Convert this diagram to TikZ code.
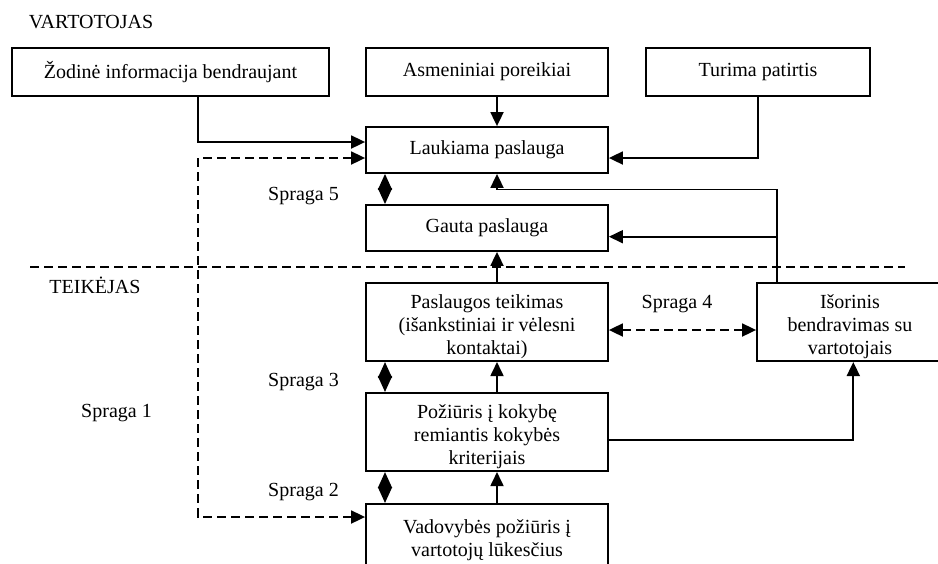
\documentclass[tikz,border=0pt]{standalone}
\usepackage{fontspec}
\setmainfont{Liberation Serif}
\usetikzlibrary{arrows.meta}

\newcommand{\topgap}{\rule{0pt}{12pt}}

\begin{document}
\begin{tikzpicture}[x=0.5pt,y=-0.5pt,
    box/.style={draw, line width=0.9pt, inner sep=1pt, align=center, minimum width=121pt, font=\fontsize{10}{11.5}\selectfont},
    tall/.style={box, minimum height=39pt},
    lbl/.style={inner sep=0pt, anchor=base, font=\fontsize{10}{11.5}\selectfont},
    arr/.style={line width=0.9pt, -{Triangle[length=7pt,width=6.5pt]}},
    gap/.style={line width=0.9pt, {Triangle[length=8pt,width=7pt]}-{Triangle[length=8pt,width=7pt]}},
    dsh/.style={line width=0.9pt, dash pattern=on 4.5pt off 2.5pt}]
      \clip (0,0) rectangle (938,563);
      \node[lbl] (vart) at (91,28.5) {VARTOTOJAS};
      \node[box, minimum width=158.5pt, minimum height=24pt] (zod) at (170.5,72) {Žodinė informacija bendraujant};
      \node[box, minimum height=24pt] (asm) at (487,72) {Asmeniniai poreikiai};
      \node[box, minimum width=112pt, minimum height=24pt] (tur) at (758,72) {Turima patirtis};
      \node[box, minimum height=23pt] (lauk) at (487,150) {Laukiama paslauga};
      \node[box, minimum height=23pt] (gauta) at (487,228) {Gauta paslauga};
      \node[lbl] (teik) at (95,293.5) {TEIKĖJAS};
      \node[tall] (pasl) at (487,322) {\topgap Paslaugos teikimas\\(išankstiniai ir vėlesni\\kontaktai)};
      \node[tall, minimum width=93pt] (isor) at (850,322) {\topgap Išorinis\\bendravimas su\\vartotojais};
      \node[tall] (poz) at (487,432) {\topgap Požiūris į kokybę\\remiantis kokybės\\kriterijais};
      \node[box, anchor=north, inner ysep=8pt, text depth=40pt] (vad) at (487,503) {Vadovybės požiūris į\\vartotojų lūkesčius};
      \node[lbl] (s5) at (303.5,200) {Spraga 5};
      \node[lbl] (s4) at (677,308.5) {Spraga 4};
      \node[lbl] (s3) at (303.5,386) {Spraga 3};
      \node[lbl] (s1) at (116.5,417.5) {Spraga 1};
      \node[lbl] (s2) at (303.5,496) {Spraga 2};
      \coordinate (g1) at (198,517);
      \coordinate (r1) at (777,189.5);
      \draw[dsh] (30,267) -- (905,267);
      \draw[arr] ([xshift=13.75pt]zod.south) |- ([yshift=4pt]lauk.west);
      \draw[arr] ([xshift=5pt]asm.south) -- ([xshift=5pt]lauk.north);
      \draw[arr] (tur.south) |- ([yshift=-4pt]lauk.east);
      \draw[dsh, {Triangle[length=7pt,width=6.5pt]}-{Triangle[length=7pt,width=6.5pt]}] ([yshift=-4pt]lauk.west) -| (g1) -- ([yshift=-7pt]vad.north west);
      \draw[gap] ([xshift=-51pt]lauk.south) -- ([xshift=-51pt]gauta.north);
      \draw[arr] ([xshift=-36.5pt]isor.north) -- (r1) -| ([xshift=5pt]lauk.south);
      \draw[arr] ([xshift=-36.5pt]isor.north) |- ([yshift=-4.35pt]gauta.east);
      \draw[arr] ([xshift=5pt]pasl.north) -- ([xshift=5pt]gauta.south);
      \draw[dsh, {Triangle[length=7pt,width=6.5pt]}-{Triangle[length=7pt,width=6.5pt]}] ([yshift=-4pt]pasl.east) -- ([yshift=-4pt]isor.west);
      \draw[gap] ([xshift=-51pt]pasl.south) -- ([xshift=-51pt]poz.north);
      \draw[arr] ([xshift=5pt]poz.north) -- ([xshift=5pt]pasl.south);
      \draw[arr] ([yshift=-4pt]poz.east) -| ([xshift=1.65pt]isor.south);
      \draw[gap] ([xshift=-51pt]poz.south) -- ([xshift=-51pt]vad.north);
      \draw[arr] ([xshift=5pt]vad.north) -- ([xshift=5pt]poz.south);
\end{tikzpicture}
\end{document}
